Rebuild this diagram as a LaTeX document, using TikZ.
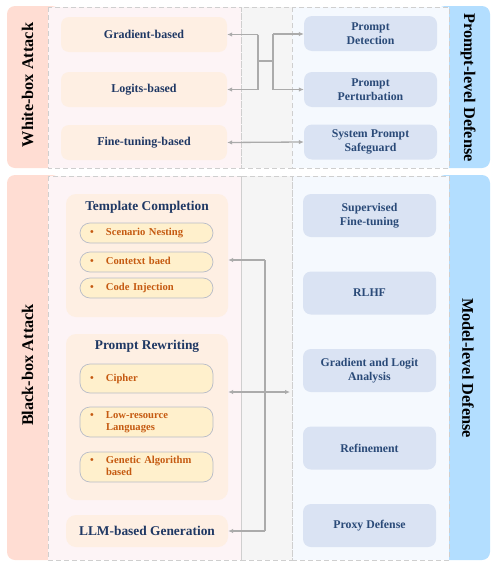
\documentclass[tikz,border=0pt]{standalone}
\usepackage{fontspec}
\setmainfont{Liberation Serif}
\usetikzlibrary{arrows.meta}
\definecolor{redstrip}{HTML}{FFDDD3}
\definecolor{bluestrip}{HTML}{B3DEFF}
\definecolor{pinkbg}{HTML}{FDF4F6}
\definecolor{graybg}{HTML}{F5F5F5}
\definecolor{bluebg}{HTML}{F5F9FE}
\definecolor{peach}{HTML}{FEEFE3}
\definecolor{itemfill}{HTML}{FFF0CC}
\definecolor{itemline}{HTML}{B8BCC8}
\definecolor{itemtext}{HTML}{C55A11}
\definecolor{navy}{HTML}{1F3864}
\definecolor{rboxfill}{HTML}{DAE3F3}
\definecolor{rboxtext}{HTML}{2A4A78}
\definecolor{dashcol}{HTML}{CFCFCF}
\definecolor{conncol}{HTML}{ABABAB}
\begin{document}
\begin{tikzpicture}[x=1pt,y=-1pt,
  dashbox/.style={draw=dashcol, line width=0.8pt, dash pattern=on 5pt off 3pt},
  lbox/.style={fill=peach, rounded corners=8pt, minimum width=166pt, minimum height=35pt, text=navy, font=\bfseries\fontsize{12}{14}\selectfont, align=center, inner sep=0pt},
  grpbox/.style={fill=peach, rounded corners=10pt, minimum width=162pt, inner sep=0pt},
  grptitle/.style={text=navy, font=\bfseries\fontsize{13.4}{15}\selectfont, inner sep=0pt},
  itembox/.style={fill=itemfill, draw=itemline, line width=0.7pt, rounded corners=10pt, minimum width=133pt, text width=113pt, inner xsep=10pt, inner ysep=0pt, align=left, text=itemtext, font=\bfseries\fontsize{10.6}{12.5}\selectfont},
  rbox/.style={fill=rboxfill, rounded corners=8pt, minimum width=133pt, minimum height=35pt, text=rboxtext, font=\bfseries\fontsize{11.8}{14}\selectfont, align=center, inner sep=0pt},
  striplabel/.style={font=\bfseries\fontsize{16.3}{18}\selectfont, text=black, inner sep=0pt},
  conn/.style={draw=conncol, line width=1.3pt},
  tip/.style={-{Latex[length=5pt,width=4.5pt]}},
  dtip/.style={{Latex[length=5pt,width=4.5pt]}-{Latex[length=5pt,width=4.5pt]}}
]
\newcommand{\itm}[1]{\begin{tabular}{@{}p{16pt}@{}l@{}}\textbullet & #1\end{tabular}}
\newcommand{\itmm}[2]{\begin{tabular}{@{}p{16pt}@{}l@{}}\textbullet & #1\\ & #2\end{tabular}}
\useasboundingbox (0,0) rectangle (498,565);
% ---------- top panel backgrounds
\fill[redstrip, rounded corners=8pt] (7,6) rectangle (60,168);
\fill[bluestrip, rounded corners=8pt] (437,6) rectangle (490,168);
\fill[pinkbg] (48,7) rectangle (241,168);
\fill[graybg] (241,7) rectangle (292,168);
\fill[bluebg] (292,7) rectangle (449,168);
\draw[dashbox] (48,7) rectangle (241,168);
\draw[dashbox] (241,7) rectangle (292,168);
\draw[dashbox] (292,7) rectangle (449,168);
% ---------- bottom panel backgrounds
\fill[redstrip, rounded corners=8pt] (7,175) rectangle (60,560);
\fill[bluestrip, rounded corners=8pt] (437,175) rectangle (490,560);
\fill[pinkbg] (48,176) rectangle (241,560);
\fill[graybg] (241,176) rectangle (292,560);
\fill[bluebg] (292,176) rectangle (449,560);
\draw[dashbox] (48,176) rectangle (241,560);
\draw[dashbox] (241,176) rectangle (292,560);
\draw[dashbox] (292,176) rectangle (449,560);
% ---------- strip labels
\node[striplabel, rotate=90] (wba) at (27.5,85) {White-box Attack};
\node[striplabel, rotate=-90] (pld) at (468,87.5) {Prompt-level Defense};
\node[striplabel, rotate=90] (bba) at (27.5,365) {Black-box Attack};
\node[striplabel, rotate=-90] (mld) at (468,368) {Model-level Defense};
% ---------- top left boxes
\node[lbox] (grad) at (144,34.5) {Gradient-based};
\node[lbox] (logit) at (144,89.5) {Logits-based};
\node[lbox] (ftb) at (144,142.5) {Fine-tuning-based};
% ---------- top right boxes
\node[rbox] (det) at (370.5,33.5) {Prompt\\Detection};
\node[rbox] (pert) at (370.5,89.5) {Prompt\\Perturbation};
\node[rbox] (sps) at (370.5,142) {System Prompt\\Safeguard};
% ---------- top connectors
\coordinate (la) at (258,34.5);
\coordinate (lb) at (258,89.5);
\coordinate (ma) at (258,61);
\coordinate (mb) at (273,61);
\coordinate (ra) at (273,34);
\coordinate (rb) at (273,89.5);
\draw[conn] (la) -- (lb);
\draw[conn] (ra) -- (rb);
\draw[conn] (ma) -- (mb);
\draw[conn, tip] (la) -- (grad.east);
\draw[conn, tip] (lb) -- (logit.east);
\draw[conn, tip] (ra) -- (ra -| det.west);
\draw[conn, tip] (rb) -- (rb -| pert.west);
\draw[conn, dtip] (ftb.east) -- (sps.west);
% ---------- bottom left groups
\node[grpbox, minimum height=123pt] (tc) at (147,255.5) {};
\node[grptitle] (tct) at (147,207.5) {Template Completion};
\node[itembox, minimum height=20pt] (sn) at (146.5,233) {\itm{Scenario Nesting}};
\node[itembox, minimum height=20pt] (cb) at (146.5,262) {\itm{Contetxt baed}};
\node[itembox, minimum height=20pt] (ci) at (146.5,288) {\itm{Code Injection}};
\node[grpbox, minimum height=166pt] (pr) at (147,417) {};
\node[grptitle] (prt) at (147,346.5) {Prompt Rewriting};
\node[itembox, minimum height=29pt] (cip) at (146.5,378.5) {\itm{Cipher}};
\node[itembox, minimum height=30pt] (lrl) at (146.5,422) {\itmm{Low-resource}{Languages}};
\node[itembox, minimum height=30pt] (gab) at (146.5,467) {\itmm{Genetic Algorithm}{based}};
\node[grpbox, minimum height=32pt, text=navy, font=\bfseries\fontsize{13.4}{15}\selectfont] (llm) at (147,531) {LLM-based Generation};
% ---------- bottom right boxes
\node[rbox, minimum height=43pt] (sft) at (369.5,215.5) {Supervised\\Fine-tuning};
\node[rbox, minimum height=43pt] (rlhf) at (369.5,293) {RLHF};
\node[rbox, minimum height=43pt] (gla) at (369.5,370.5) {Gradient and Logit\\Analysis};
\node[rbox, minimum height=43pt] (refn) at (369.5,448) {Refinement};
\node[rbox, minimum height=43pt] (prx) at (369.5,525.5) {Proxy Defense};
% ---------- bottom connectors
\coordinate (va) at (265,260);
\coordinate (vb) at (265,531);
\coordinate (hr) at (290,392);
\draw[conn] (va) -- (vb);
\draw[conn, tip] (va) -- (va -| tc.east);
\draw[conn, tip] (vb) -- (llm.east);
\draw[conn, dtip] (hr -| pr.east) -- (hr);
\end{tikzpicture}
\end{document}
